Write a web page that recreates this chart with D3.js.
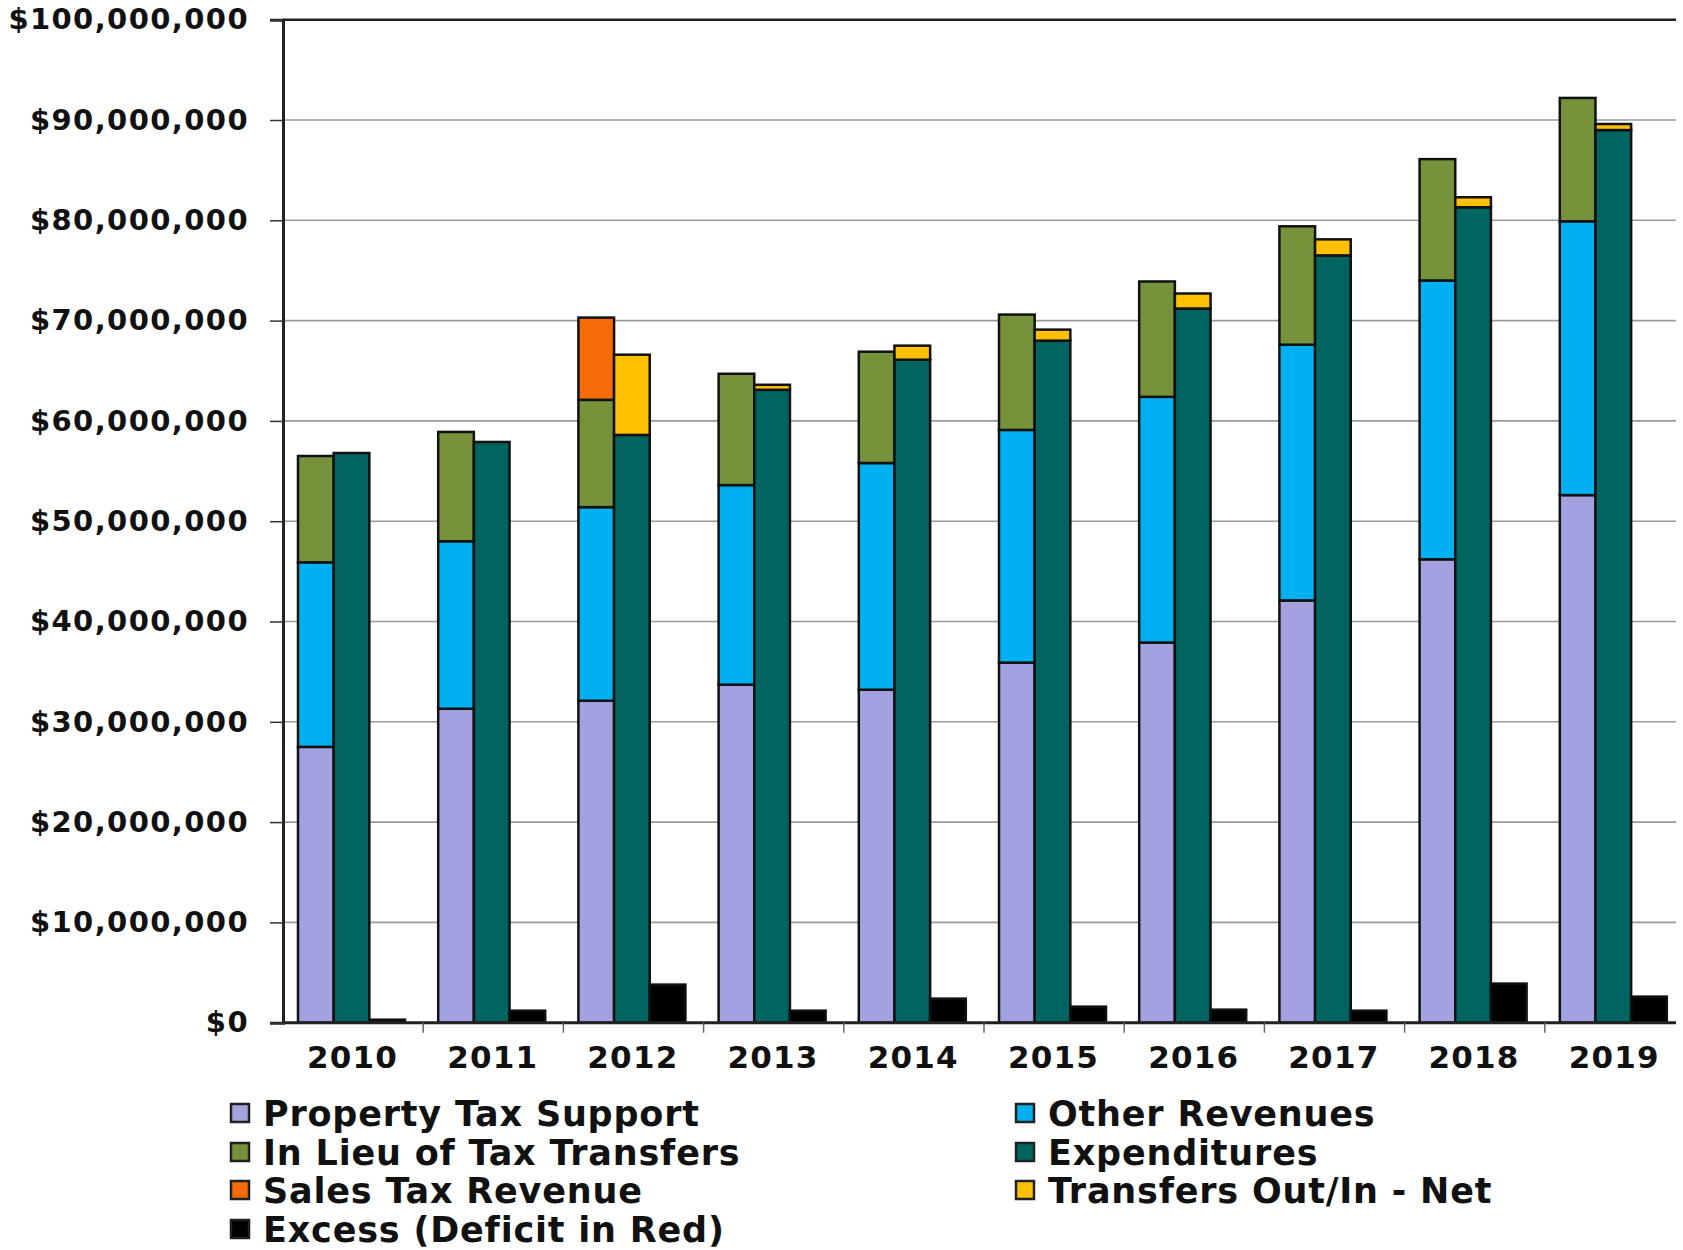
<!DOCTYPE html>
<html lang="en">
<head>
  <meta charset="UTF-8">
  <title>Revenues vs Expenditures 2010-2019</title>
  <script src="https://d3js.org/d3.v7.min.js"></script>
  <style>
    body { margin: 0; background: #fff; }
    text { font-family: "DejaVu Sans", sans-serif; font-weight: bold; fill: #111; }
    .bar { stroke: #111; stroke-width: 2.5; }
  </style>
</head>
<body>
<div id="chart"></div>
<script>

// data in millions of dollars
const years = ["2010", "2011", "2012", "2013", "2014", "2015", "2016", "2017", "2018", "2019"];
const propertyTax = [27.5, 31.3, 32.1, 33.7, 33.2, 35.9, 37.9, 42.1, 46.2, 52.6];
const otherRevenues = [18.4, 16.7, 19.3, 19.9, 22.6, 23.2, 24.5, 25.5, 27.8, 27.3];
const inLieu = [10.6, 10.9, 10.7, 11.1, 11.1, 11.5, 11.5, 11.8, 12.1, 12.3];
const salesTax = [0, 0, 8.2, 0, 0, 0, 0, 0, 0, 0];
const expenditures = [56.8, 57.9, 58.6, 63.1, 66.1, 68.0, 71.2, 76.5, 81.3, 89.0];
const transfers = [0, 0, 8.0, 0.5, 1.4, 1.1, 1.5, 1.6, 1.0, 0.6];
const excess = [0.3, 1.2, 3.8, 1.2, 2.4, 1.6, 1.3, 1.2, 3.9, 2.6];
const yTicks = [0, 10, 20, 30, 40, 50, 60, 70, 80, 90, 100];

const legendItems = [
  {name: "Property Tax Support", color: "#a4a1e1"},
  {name: "Other Revenues", color: "#00b0f0"},
  {name: "In Lieu of Tax Transfers", color: "#76933c"},
  {name: "Expenditures", color: "#006461"},
  {name: "Sales Tax Revenue", color: "#f46b08"},
  {name: "Transfers Out/In - Net", color: "#ffc000"},
  {name: "Excess (Deficit in Red)", color: "#000000"}
];
const color = {};
legendItems.forEach(d => color[d.name] = d.color);

const W = 1683, H = 1250;
const plotLeft = 283, plotRight = 1685, plotTop = 19.7, plotBottom = 1022.7, plotEnd = 1676;

const svg = d3.select("#chart").append("svg")
  .attr("width", W).attr("height", H);

const x = d3.scaleBand().domain(years).range([plotLeft, plotRight]).padding(0);
const xSub = d3.scaleBand().domain(["rev", "exp", "exc"]).range([15, 122]).padding(0);
const y = d3.scaleLinear().domain([0, 100]).range([plotBottom, plotTop]);

// gridlines
svg.append("g")
  .selectAll("line")
  .data(yTicks.slice(1, -1))
  .join("line")
    .attr("x1", plotLeft).attr("x2", plotEnd)
    .attr("y1", d => y(d)).attr("y2", d => y(d))
    .attr("stroke", "#9a9a9a").attr("stroke-width", 1.6);

// top border
svg.append("line")
  .attr("x1", plotLeft).attr("x2", plotEnd)
  .attr("y1", y(100)).attr("y2", y(100))
  .attr("stroke", "#222").attr("stroke-width", 2.5);

// y axis
const yAxis = svg.append("g")
  .attr("transform", `translate(${plotLeft},0)`)
  .call(d3.axisLeft(y).tickValues(yTicks).tickSize(13).tickPadding(21)
    .tickFormat(d => "$" + d3.format(",")(d * 1e6)));
yAxis.select(".domain").attr("stroke", "#222").attr("stroke-width", 3);
yAxis.selectAll(".tick line").attr("stroke", "#333").attr("stroke-width", 1.5);
yAxis.selectAll("text").style("font-size", "29px").style("letter-spacing", "1.4px").attr("fill", "#111");

// stacks
const revKeys = ["Property Tax Support", "Other Revenues", "In Lieu of Tax Transfers", "Sales Tax Revenue"];
const expKeys = ["Expenditures", "Transfers Out/In - Net"];
const rows = years.map((yr, i) => ({
  year: yr,
  "Property Tax Support": propertyTax[i],
  "Other Revenues": otherRevenues[i],
  "In Lieu of Tax Transfers": inLieu[i],
  "Sales Tax Revenue": salesTax[i],
  "Expenditures": expenditures[i],
  "Transfers Out/In - Net": transfers[i],
  "Excess (Deficit in Red)": excess[i]
}));

function drawStack(keys, sub) {
  const series = d3.stack().keys(keys)(rows);
  svg.append("g")
    .selectAll("g")
    .data(series)
    .join("g")
      .attr("fill", s => color[s.key])
    .selectAll("rect")
    .data(s => s.filter(d => d[1] - d[0] > 0))
    .join("rect")
      .attr("class", "bar")
      .attr("x", d => x(d.data.year) + xSub(sub))
      .attr("width", xSub.bandwidth())
      .attr("y", d => y(d[1]))
      .attr("height", d => y(d[0]) - y(d[1]));
}
drawStack(revKeys, "rev");
drawStack(expKeys, "exp");
drawStack(["Excess (Deficit in Red)"], "exc");

// x axis
const xAxis = svg.append("g")
  .attr("transform", `translate(0,${plotBottom})`);
xAxis.append("line")
  .attr("x1", plotLeft).attr("x2", plotEnd)
  .attr("stroke", "#222").attr("stroke-width", 3);
xAxis.selectAll(".sep")
  .data(years.slice(1))
  .join("line")
    .attr("class", "sep")
    .attr("x1", d => x(d)).attr("x2", d => x(d))
    .attr("y1", 0).attr("y2", 10)
    .attr("stroke", "#666").attr("stroke-width", 1.5);
xAxis.selectAll("text")
  .data(years)
  .join("text")
    .attr("x", d => x(d) + xSub("exp") + xSub.bandwidth() / 2 + 1)
    .attr("y", 45)
    .attr("text-anchor", "middle")
    .style("font-size", "31px")
    .style("letter-spacing", "1.2px")
    .text(d => d);

// legend
const legendPos = [
  [231, 1113], [1016, 1113],
  [231, 1152], [1016, 1152],
  [231, 1190], [1016, 1190],
  [231, 1229]
];
const legend = svg.append("g").selectAll("g")
  .data(legendItems)
  .join("g")
    .attr("transform", (d, i) => `translate(${legendPos[i][0]},${legendPos[i][1]})`);
legend.append("rect")
  .attr("x", 0).attr("y", -9).attr("width", 18).attr("height", 18)
  .attr("fill", d => d.color).attr("stroke", "#222").attr("stroke-width", 2.5);
legend.append("text")
  .attr("x", 32).attr("y", 0).attr("dy", "0.36em")
  .style("font-size", "35px")
  .style("letter-spacing", "0.8px")
  .text(d => d.name);

</script>
</body>
</html>
